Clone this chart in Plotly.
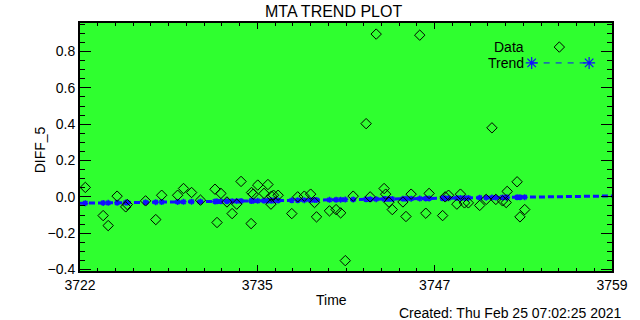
import plotly.graph_objects as go
import numpy as np

# ---- data ----
time = [3722.37, 3723.61, 3723.96, 3724.58, 3725.18, 3725.29, 3726.56, 3727.27, 3727.68, 3728.79,
        3729.20, 3729.76, 3730.38, 3731.39, 3731.53, 3731.80, 3732.22, 3732.58, 3732.90, 3733.20,
        3733.90, 3733.93, 3734.05, 3734.36, 3734.80, 3735.07, 3735.28, 3735.32, 3735.46, 3735.78,
        3736.73, 3737.14, 3737.60, 3738.04, 3738.31, 3738.45, 3739.35, 3739.81, 3740.13, 3740.45,
        3741.00, 3741.90, 3742.18, 3742.60, 3743.15, 3743.26, 3743.49, 3743.72, 3744.46, 3744.67,
        3745.03, 3745.63, 3746.05, 3746.28, 3747.22, 3747.40, 3747.63, 3748.21, 3748.46, 3748.74,
        3749.01, 3749.80, 3750.25, 3750.65, 3750.92, 3751.39, 3751.64, 3751.71, 3752.40, 3752.60,
        3752.93]
diff5 = [0.052, -0.103, -0.158, 0.004, -0.055, -0.042, -0.022, -0.125, 0.009, 0.009,
         0.046, 0.024, -0.018, 0.042, -0.141, 0.019, -0.028, -0.092, -0.040, 0.085,
         -0.147, 0.024, 0.015, 0.065, 0.019, 0.068, -0.040, 0.004, 0.009, 0.009,
         -0.092, 0.000, 0.004, 0.015, -0.031, -0.110, -0.077, -0.070, -0.088, -0.351,
         0.004, 0.403, 0.000, 0.896, 0.046, 0.015, -0.029, -0.070, -0.028, -0.108,
         0.015, 0.890, -0.090, 0.019, -0.103, 0.000, 0.009, -0.040, 0.015, -0.033,
         -0.033, -0.047, -0.014, 0.380, -0.014, -0.022, -0.031, 0.030, 0.083, -0.110,
         -0.070]
trend_x = [3722.0, 3759.0]
trend_y = [-0.035, 0.005]

x_tickvals = [3722, 3722 + 37 / 3, 3722 + 74 / 3, 3759]
x_ticktext = ["3722", "3735", "3747", "3759"]
y_tickvals = [-0.4, -0.2, 0.0, 0.2, 0.4, 0.6, 0.8]
y_ticktext = ["\u22120.4", "\u22120.2", "0.0", "0.2", "0.4", "0.6", "0.8"]

GREEN = "#2fff2f"
BLUE = "#1010ff"
FONT = "Liberation Sans"

fig = go.Figure()

# trend line through full range
fig.add_trace(go.Scatter(x=trend_x, y=trend_y, mode="lines",
                         line=dict(color=BLUE, width=3, dash="6px,3px"),
                         hoverinfo="skip", showlegend=False))
# trend evaluated at the data times (asterisks)
trend_at = np.interp(time, trend_x, trend_y)
fig.add_trace(go.Scatter(x=time, y=trend_at, mode="markers",
                         marker=dict(symbol="asterisk-open", size=5, color=BLUE,
                                     line=dict(color=BLUE, width=1.5)),
                         showlegend=False))
# data diamonds
fig.add_trace(go.Scatter(x=time, y=diff5, mode="markers",
                         marker=dict(symbol="diamond-open", size=8, color="black",
                                     line=dict(color="black", width=1)),
                         showlegend=False))

# legend drawn on an overlay axis (0..1)
fig.add_trace(go.Scatter(x=[0.901], y=[0.903], xaxis="x2", yaxis="y2", mode="markers",
                         marker=dict(symbol="diamond-open", size=8, color="black",
                                     line=dict(color="black", width=1)),
                         showlegend=False))
fig.add_trace(go.Scatter(x=[0.849, 0.957], y=[0.839, 0.839], xaxis="x2", yaxis="y2",
                         mode="lines+markers",
                         line=dict(color=BLUE, width=1, dash="6px,6px"),
                         marker=dict(symbol="asterisk-open", size=10, color=BLUE,
                                     line=dict(color=BLUE, width=1.2)),
                         showlegend=False))

axis_common = dict(showgrid=False, zeroline=False, showline=True, linecolor="black",
                   linewidth=2, mirror="ticks", ticks="inside", tickcolor="black",
                   tickfont=dict(family=FONT, size=14, color="black"))

fig.update_layout(
    width=640, height=320,
    margin=dict(l=80, r=24, t=23, b=49),
    paper_bgcolor="white", plot_bgcolor=GREEN,
    font=dict(family=FONT, color="black"),
    showlegend=False,
    xaxis=dict(range=[3722, 3759], tickvals=x_tickvals, ticktext=x_ticktext,
               ticklen=6, tickwidth=1,
               minor=dict(tickvals=list(np.linspace(3722, 3759, 31)), ticklen=3,
                          ticks="inside", tickcolor="black"),
               **axis_common),
    yaxis=dict(range=[-0.408, 0.957], tickvals=y_tickvals, ticktext=y_ticktext,
               ticklen=11, tickwidth=1,
               minor=dict(dtick=0.05, tick0=0, ticklen=5, ticks="inside", tickcolor="black"),
               **axis_common),
    xaxis2=dict(range=[0, 1], overlaying="x", visible=False),
    yaxis2=dict(range=[0, 1], overlaying="y", visible=False),
)


def px(xp, yp):
    # convert pixel coords to paper coords of plot area
    return (xp - 80) / 536, (271 - yp) / 248


anns = []


def ann(text, xp, yp, size, xanchor="center"):
    x, y = px(xp, yp)
    anns.append(dict(text=text, x=x, y=y, xref="paper", yref="paper", showarrow=False,
                     xanchor=xanchor, yanchor="middle",
                     font=dict(family=FONT, size=size, color="black")))


ann("MTA TREND PLOT", 335, 12, 16)
ann("Time", 333, 300, 14)
ann("Created: Thu Feb 25 07:02:25 2021", 628, 313, 14, xanchor="right")
ann("Data", 529, 47, 14, xanchor="right")
ann("Trend", 529, 63, 14, xanchor="right")
x, y = px(30, 150)
anns.append(dict(text="DIFF_5", x=x, y=y, xref="paper", yref="paper", showarrow=False,
                 textangle=-90, font=dict(family=FONT, size=14, color="black")))
fig.update_layout(annotations=anns)

fig.write_html("out.html", config={"displayModeBar": False},
               post_script="document.body.style.margin='0';document.body.style.overflow='hidden';")
